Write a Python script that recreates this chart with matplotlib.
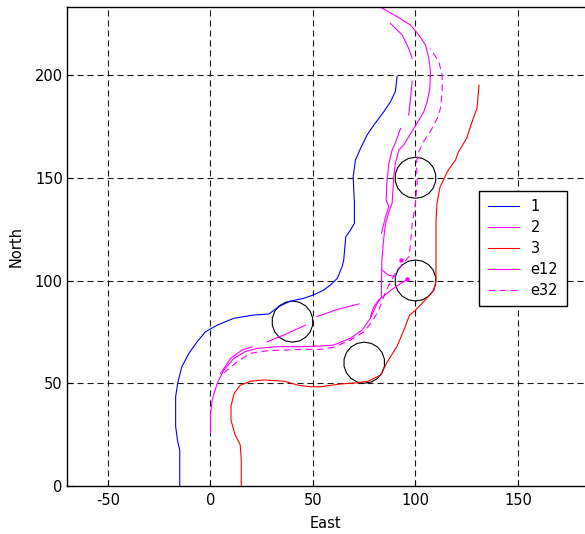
import numpy as np
import matplotlib
matplotlib.use("Agg")
import matplotlib.pyplot as plt
from matplotlib.patches import RegularPolygon

# vehicle 1 (blue)
east1 = [-15, -15, -16, -17, -17, -16, -14, -10.5, -6.5, -2.5, 3.3, 11.4, 21, 28.5,
         33.3, 39, 45.4, 50.3, 55.3, 58.5, 61.8, 64.2, 65, 66, 68.3, 70.2, 70.2, 69.6,
         70.7, 73.2, 76.4, 79.7, 84.6, 87.8, 90.2, 91]
north1 = [0, 17.5, 21.6, 29, 43.5, 50, 58, 64.6, 70.2, 75, 78.3, 81.6, 83.2, 83.7,
          87.3, 90, 91.3, 93, 95.4, 97.8, 101, 106.7, 110, 121.3, 124.6, 127.8, 137.6,
          150.5, 158.6, 164.3, 170.8, 175.7, 182.2, 187, 192, 199.2]

# vehicle 2 (magenta)
east2 = [0, 0, 0.8, 3.3, 6.5, 11.4, 17, 22.8, 32.5, 43.9, 53.7, 60.1, 68.3, 74, 78,
         81.3, 83.4, 83.4, 83.6, 84.6, 85.4, 87.3, 88.6, 89.4, 90.2, 91.9, 94.3, 96.7,
         99.2, 101.6, 104, 105.7, 107, 107.3, 106.5, 104.9, 101.6, 97.6, 91, 83]
north2 = [26, 35, 41.8, 50, 56.4, 62.1, 65.4, 67, 67.8, 67.8, 68.1, 68.6, 71.9, 75.9,
          81.6, 88.9, 92, 98.6, 110, 121.3, 127.8, 134.3, 137.6, 150.6, 157, 163.5, 166,
          170, 174, 178, 182, 187, 193.5, 201.6, 208, 214.6, 219.5, 224.3, 228.4, 233]

# vehicle 3 (red)
east3 = [15, 15, 14.5, 12, 10, 10, 11.5, 14.5, 19.5, 26, 36, 43, 49, 54, 63, 72, 77,
         83, 86, 91, 95, 97, 100, 104, 109, 110, 110, 110.5, 112, 116, 119.5, 121, 125,
         127.6, 130, 131]
north3 = [0, 13, 20, 25, 32, 39, 45, 49, 51, 51.6, 51, 49, 48.3, 48.3, 49.6, 50.3, 51,
          54, 60, 68, 77.5, 83, 85.6, 89.7, 95.4, 100, 129.4, 137.7, 145.6, 153.8, 158.6,
          162.7, 169.3, 177.3, 183.8, 195]

# estimate e12 (gaps where no estimate)
nan = np.nan
east_e12 = [4.9, 9.8, 15.5, 20.3, nan,
            27.7, 37, 46.3, nan,
            52, 62, 72.4, nan,
            78, 79.7, 82, 89, 96, nan,
            83.8, 87, 90.2, nan,
            83.4, 85.4, 87, 85.7, 86, 87, 88.6, 90.2, 92.7, nan,
            96.7, 97.6, 98.4, nan,
            98.4, 96.7, 93.5, 87.8]
north_e12 = [54.8, 62.1, 66.2, 67.8, nan,
             70.2, 74, 78.3, nan,
             82.4, 86, 88.6, nan,
             82.4, 87.3, 90.5, 96, 100.6, nan,
             105, 102.5, 101.9, nan,
             123, 131, 136, 139, 147.3, 157, 163.5, 167, 174, nan,
             180.5, 188.7, 197, nan,
             208.1, 212.9, 219.5, 225.1]

# estimate e32
east_e32 = [6.5, 13, 19.5, 27.6, 43.9, 53.7, 60, 68.3, 74.8, 78.9, 82.1, 85.4, 87.5,
            91, 96.8, 97.6, 98.4, 100, 100.8, 100.5, 101.6, 104, 107.3, 110.6, 112.2,
            113, 113, 111.4, 107.3]
north_e32 = [55, 60.5, 64.6, 65.8, 66.5, 66.5, 67.5, 71, 75, 80, 85.6, 94.5, 98.6, 105,
             111.6, 118, 127.8, 137.7, 147, 157.8, 162.7, 167.7, 172.6, 178.9, 183.8,
             191.9, 200, 206.4, 212.9]

dots_east = [92.7, 96]
dots_north = [110, 100.6]

# obstacles
obs_east = [40, 75, 100, 100]
obs_north = [80, 60, 100, 150]
obs_radius = 10

plt.rcParams["font.size"] = 10.5
plt.rcParams["axes.unicode_minus"] = False

fig = plt.figure(figsize=(5.85, 5.34), dpi=100)
ax = fig.add_axes([0.1145, 0.0899, 0.8936, 0.8966])

grid_kw = dict(color="0.1", lw=0.8, ls=(0, (5.5, 3.5)), zorder=0)
for gx in [-50, 0, 50, 100, 150]:
    ax.axvline(gx, **grid_kw)
for gy in [50, 100, 150, 200]:
    ax.axhline(gy, **grid_kw)

lw = 0.8
ax.plot(east1, north1, color="#0000ff", lw=lw, label="1")
ax.plot(east2, north2, color="#ff00ff", lw=lw, label="2")
ax.plot(east3, north3, color="#ff0000", lw=lw, label="3")
ax.plot(east_e12, north_e12, color="#ff00ff", lw=lw, label="e12")
ax.plot(east_e32, north_e32, color="#ff00ff", lw=lw, ls=(0, (6, 4)), label="e32")
ax.plot(dots_east, dots_north, ls="none", marker="o", ms=2.2, color="#ff00ff")

for ox, oy in zip(obs_east, obs_north):
    ax.add_patch(RegularPolygon((ox, oy), numVertices=18, radius=obs_radius,
                                fill=False, edgecolor="black", lw=0.8))

ax.set_xlim(-70, 185)
ax.set_ylim(0, 233)
ax.set_xticks([-50, 0, 50, 100, 150])
ax.set_yticks([0, 50, 100, 150, 200])
ax.tick_params(direction="in", length=4, width=0.8)
ax.tick_params(axis="x", pad=5)
ax.tick_params(axis="y", pad=3)
for s in ax.spines.values():
    s.set_linewidth(1.0)

ax.set_xlabel("East")
ax.set_ylabel("North")
ax.xaxis.set_label_coords(0.494, -0.062)
ax.yaxis.set_label_coords(-0.083, 0.5)

leg = ax.legend(loc="upper left", bbox_to_anchor=(0.789, 0.617), fancybox=False,
                edgecolor="black", framealpha=1, handlelength=2.1,
                handletextpad=0.8, labelspacing=0.4, borderpad=0.6,
                borderaxespad=0)
leg.get_frame().set_linewidth(1.0)

fig.savefig("out.png", dpi=100)
